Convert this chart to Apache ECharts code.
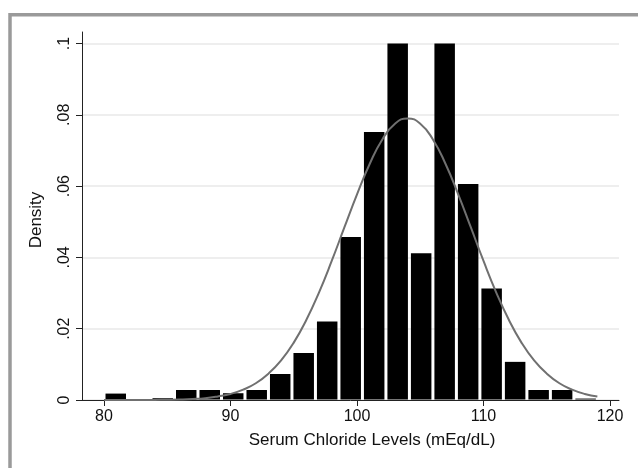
<!DOCTYPE html>
<html>
<head>
<meta charset="utf-8">
<script src="https://cdn.jsdelivr.net/npm/echarts@6/dist/echarts.min.js"></script>
<style>
html,body{margin:0;padding:0;background:#fff;}
#chart{width:638px;height:468px;}
</style>
</head>
<body>
<div id="chart"></div>
<script>
// Histogram bin edges (mEq/dL) and bar densities
const binEdges = [80, 81.857, 83.714, 85.571, 87.429, 89.286, 91.143, 93, 94.857, 96.714, 98.571,
  100.429, 102.286, 104.143, 106, 107.857, 109.714, 111.571, 113.429, 115.286, 117.143, 119];
const densities = [0.0018, 0, 0.0005, 0.0028, 0.0028, 0.0019, 0.0028, 0.0073, 0.0132, 0.022, 0.0457,
  0.0752, 0.1, 0.0412, 0.1, 0.0606, 0.0313, 0.0107, 0.0028, 0.0028, 0.0004];

// Normal density overlay
const curveX = [80, 81, 82, 83, 84, 85, 86, 87, 88, 89, 90, 91, 92, 93, 94, 95, 96, 97, 98, 99,
  100, 101, 102, 103, 104, 105, 106, 107, 108, 109, 110, 111, 112, 113, 114, 115, 116, 117, 118, 119];
const curveY = [0, 0, 0, 0.00001, 0.00003, 0.00007, 0.00014, 0.00027, 0.0005, 0.001, 0.0017, 0.0029,
  0.0047, 0.0074, 0.0111, 0.0161, 0.0225, 0.0302, 0.039, 0.0484, 0.0577, 0.0662, 0.0731, 0.0775,
  0.079, 0.0775, 0.0731, 0.0662, 0.0577, 0.0484, 0.039, 0.0302, 0.0225, 0.0161, 0.0111, 0.0074,
  0.0047, 0.0029, 0.0017, 0.001];

const xTickValues = [80, 90, 100, 110, 120];
const yTickValues = [0, 0.02, 0.04, 0.06, 0.08, 0.1];
const yTickLabels = ['0', '.02', '.04', '.06', '.08', '.1'];

const xTitle = 'Serum Chloride Levels (mEq/dL)';
const yTitle = 'Density';

const chart = echarts.init(document.getElementById('chart'), null, {renderer: 'canvas'});
const font = 'Liberation Sans, Arial, Helvetica, sans-serif';

const barData = densities.map((d, i) => [binEdges[i], binEdges[i + 1], d]);
const lineData = curveX.map((x, i) => [x, curveY[i]]);

chart.setOption({
  animation: false,
  backgroundColor: '#ffffff',
  grid: {left: 82, right: 19, top: 32, bottom: 68},
  xAxis: {
    type: 'value',
    min: 78.26,
    max: 120.71,
    axisLine: {show: true, lineStyle: {color: '#222', width: 1}},
    axisTick: {show: true, length: 6, lineStyle: {color: '#222'}, customValues: xTickValues},
    axisLabel: {customValues: xTickValues, color: '#111', fontSize: 16, fontFamily: font, margin: 9},
    splitLine: {show: false}
  },
  yAxis: {
    type: 'value',
    min: 0,
    max: 0.10323,
    axisLine: {show: true, lineStyle: {color: '#222', width: 1}},
    axisTick: {show: true, length: 6, lineStyle: {color: '#222'}, customValues: yTickValues},
    axisLabel: {
      customValues: yTickValues, rotate: 90, color: '#111', fontSize: 16, fontFamily: font, margin: 9,
      formatter: function (v) {
        const i = yTickValues.findIndex(t => Math.abs(t - v) < 1e-9);
        return i >= 0 ? yTickLabels[i] : '';
      }
    },
    splitLine: {show: true, lineStyle: {color: '#e8e8e8', width: 1.5}}
  },
  series: [
    {
      type: 'custom',
      data: barData,
      encode: {x: [0, 1], y: 2},
      z: 2,
      renderItem: function (params, api) {
        const h = api.value(2);
        if (!h) return null;
        const p0 = api.coord([api.value(0), h]);
        const p1 = api.coord([api.value(1), 0]);
        return {
          type: 'rect',
          shape: {x: p0[0] + 1.5, y: p0[1], width: p1[0] - p0[0] - 3, height: p1[1] - p0[1] - 0.5},
          style: {fill: '#000000'}
        };
      }
    },
    {
      type: 'line',
      data: lineData,
      smooth: true,
      showSymbol: false,
      z: 3,
      lineStyle: {color: '#707070', width: 2}
    }
  ],
  graphic: [
    {
      type: 'rect',
      shape: {x: 10, y: 14.8, width: 700, height: 520},
      style: {fill: 'none', stroke: '#9a9a9a', lineWidth: 3.5},
      silent: true,
      z: 0
    },
    {
      type: 'text',
      x: 372, y: 440,
      style: {text: xTitle, fill: '#111', font: '17px ' + font, textAlign: 'center', textVerticalAlign: 'middle'}
    },
    {
      type: 'text',
      x: 36, y: 220,
      rotation: Math.PI / 2,
      style: {text: yTitle, fill: '#111', font: '17px ' + font, textAlign: 'center', textVerticalAlign: 'middle'}
    }
  ]
});
</script>
</body>
</html>
